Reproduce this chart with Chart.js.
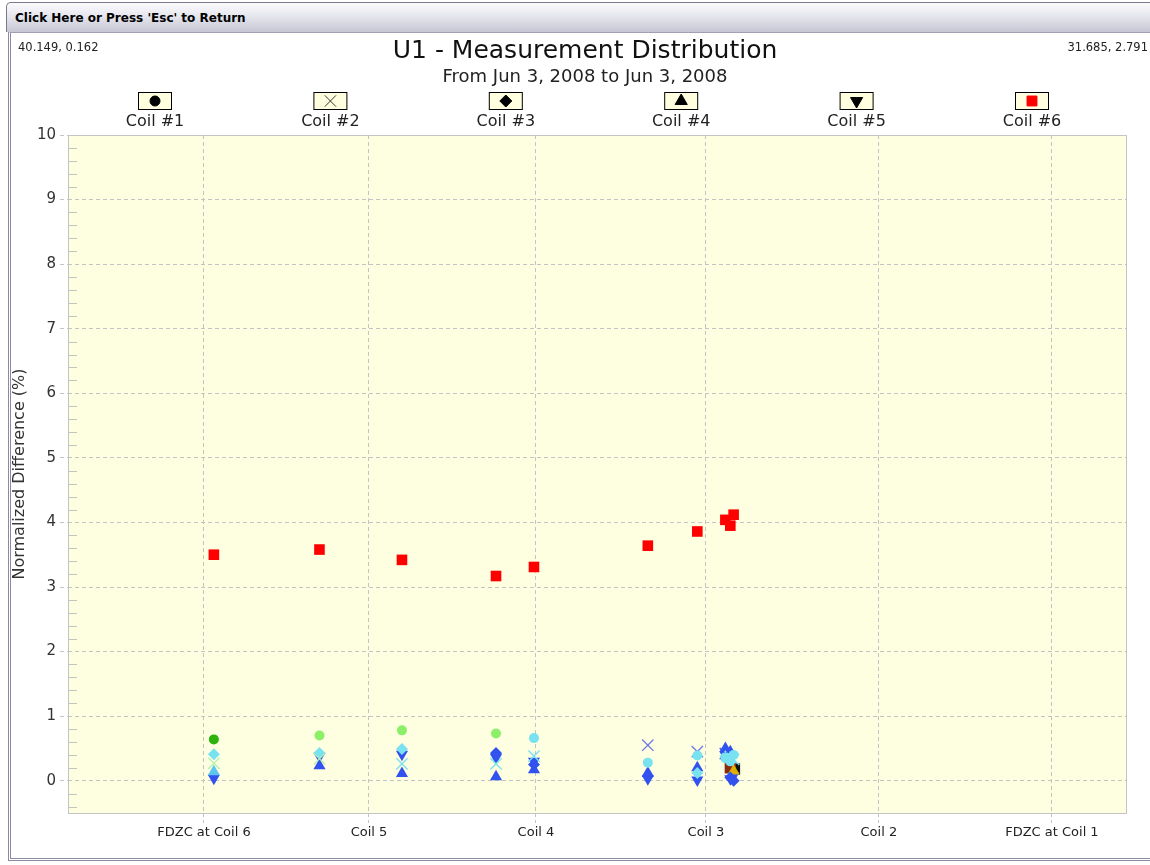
<!DOCTYPE html>
<html>
<head>
<meta charset="utf-8">
<script src="https://cdn.jsdelivr.net/npm/chart.js"></script>
<style>
  html, body { margin:0; padding:0; background:#fff; width:1150px; height:865px; overflow:hidden; }
  #bar {
    position:absolute; left:6px; top:2px; width:1150px; height:30px;
    border-top:1px solid #7a7a8a; border-left:1px solid #7a7a8a; border-radius:5px 0 0 0;
    background:linear-gradient(#fbfbfd, #e6e6ee 45%, #c6c6d4);
    font:bold 12px "DejaVu Sans", sans-serif; color:#000;
    line-height:30px; padding-left:8px; box-sizing:border-box; white-space:nowrap;
  }
  #frame {
    position:absolute; left:8px; top:32px; width:1150px; height:829px;
    border-left:3px double #8a8aa0; border-bottom:3px double #8a8aa0; border-top:1px solid #a0a0b4;
    box-sizing:border-box; background:#fff;
  }
  .coord { position:absolute; top:40px; font:11.5px "DejaVu Sans", sans-serif; color:#222; white-space:nowrap; }
  #chart { position:absolute; left:12px; top:34px; }
</style>
</head>
<body>
<div id="bar">Click Here or Press 'Esc' to Return</div>
<div id="frame"></div>
<canvas id="chart" width="1138" height="826"></canvas>
<div class="coord" style="left:18px">40.149, 0.162</div>
<div class="coord" style="right:2px">31.685, 2.791</div>
<script>
// ---------- dados ----------
const categories = ['FDZC at Coil 6', 'Coil 5', 'Coil 4', 'Coil 3', 'Coil 2', 'FDZC at Coil 1'];
const categoryPos = [0, 1.0, 2.012, 3.042, 4.09, 5.139];
const yTicks = [0, 1, 2, 3, 4, 5, 6, 7, 8, 9, 10];

// posições das medições no eixo x
const measX = [0.06, 0.70, 1.20, 1.77, 2.00, 2.69, 2.99, 3.16, 3.19, 3.21];

const coil1 = [0.64, 0.70, 0.78, 0.73, 0.66, 0.28, 0.39, 0.35, 0.30, 0.40];
const coil2 = [0.27, 0.34, 0.26, 0.26, 0.38, 0.55, 0.45, 0.42, 0.36, 0.33];
const coil3 = [0.41, 0.43, 0.49, 0.43, 0.25, 0.07, 0.12, 0.38, 0.05, 0.00];
const coil4 = [0.14, 0.23, 0.11, 0.06, 0.17, 0.12, 0.20, 0.50, 0.45, 0.15];
const coil5 = [0.04, 0.38, 0.41, 0.36, 0.30, 0.03, 0.01, 0.40, 0.03, 0.08];
const coil6 = [3.50, 3.58, 3.42, 3.17, 3.31, 3.64, 3.86, 4.04, 3.95, 4.12];

// pontos marcados (quadrados escuros no grupo de Coil 3)
const markedX = [3.215, 3.19];
const markedY = [0.18, 0.20];

// ---------- cores ----------
const G1 = '#2eb20e', LG = '#8cef68', XG = '#b2f0b0', CY = '#78e2f0', BL = '#3152ee', XB = '#6a78e0', LB = '#5cc6f0';
const coil1Colors = [G1, LG, LG, LG, CY, CY, CY, CY, CY, CY];
const coil2Colors = [XG, XG, CY, CY, CY, XB, XB, BL, CY, CY];
const coil3Colors = [CY, CY, CY, BL, BL, BL, CY, CY, BL, BL];
const coil4Colors = [LB, BL, BL, BL, BL, BL, BL, BL, BL, '#e0b000'];
const coil5Colors = measX.map(() => BL);
const coil6Colors = measX.map(() => '#ff0000');
const markedColors = ['#111111', '#8a2a10'];

const FONT = '"DejaVu Sans", Verdana, sans-serif';

function pts(xs, ys){
    return xs.map((x, i) => ({x: x, y: ys[i]}));
}

const legendItems = [
    {label:'Coil #1', style:'circle', radius:5, rotation:0, color:'#000'},
    {label:'Coil #2', style:'crossRot', radius:8, rotation:0, color:'#000'},
    {label:'Coil #3', style:'rectRot', radius:6, rotation:0, color:'#000'},
    {label:'Coil #4', style:'triangle', radius:7, rotation:0, color:'#000'},
    {label:'Coil #5', style:'triangle', radius:7, rotation:180, color:'#000'},
    {label:'Coil #6', style:'rect', radius:7, rotation:0, color:'#ff0000'}
];

// ---------- plugin: fundo, borda, ticks menores e legenda ----------
const plotDeco = {
    id:'plotDeco',
    beforeDraw(chart){
        const a = chart.chartArea, ctx = chart.ctx;
        ctx.save();
        ctx.fillStyle = '#fefee0';
        ctx.fillRect(a.left, a.top, a.right - a.left, a.bottom - a.top);
        ctx.restore();
    },
    beforeDatasetsDraw(chart){
        const a = chart.chartArea, ctx = chart.ctx, ys = chart.scales.y;
        ctx.save();
        ctx.strokeStyle = '#c4c4c4';
        ctx.lineWidth = 1;
        for(let v = -0.4; v < 10; v += 0.2){
            if(Math.abs(v - Math.round(v)) < 0.01) continue;
            const py = Math.round(ys.getPixelForValue(v)) + 0.5;
            ctx.beginPath();
            ctx.moveTo(a.left, py);
            ctx.lineTo(a.left + 9, py);
            ctx.stroke();
        }
        ctx.strokeRect(Math.round(a.left) + 0.5, Math.round(a.top) + 0.5, Math.round(a.right - a.left), Math.round(a.bottom - a.top));
        ctx.restore();
    },
    afterDraw(chart){
        const a = chart.chartArea, ctx = chart.ctx;
        ctx.save();
        legendItems.forEach((it, i) => {
            const cx = a.left + 87 + i * 175.4;
            const top = 58;
            ctx.fillStyle = '#ffffe0';
            ctx.fillRect(cx - 17, top, 34, 18);
            ctx.strokeStyle = '#000';
            ctx.lineWidth = 1;
            ctx.strokeRect(cx - 16.5, top + 0.5, 33, 17);
            ctx.fillStyle = it.color;
            ctx.strokeStyle = it.style === 'crossRot' ? '#333' : it.color;
            ctx.lineWidth = 1;
            Chart.helpers.drawPoint(ctx, {pointStyle:it.style, radius:it.radius, rotation:it.rotation, borderWidth:1}, cx, top + 9);
            ctx.fillStyle = '#222';
            ctx.font = '16px ' + FONT;
            ctx.textAlign = 'center';
            ctx.textBaseline = 'middle';
            ctx.fillText(it.label, cx, 88);
        });
        ctx.restore();
    }
};

const baseDs = {showLine:false, borderWidth:0, hoverRadius:0, yAxisID:'y'};

new Chart(document.getElementById('chart'), {
    type:'scatter',
    data:{
        datasets:[
            Object.assign({}, baseDs, {label:'Coil #1', data:pts(measX, coil1), pointStyle:'circle', pointRadius:5, pointBackgroundColor:coil1Colors, pointBorderColor:coil1Colors}),
            Object.assign({}, baseDs, {label:'Coil #2', data:pts(measX, coil2), pointStyle:'crossRot', pointRadius:8, pointBorderWidth:1.3, borderWidth:1.3, pointBackgroundColor:coil2Colors, pointBorderColor:coil2Colors}),
            Object.assign({}, baseDs, {label:'Coil #3', data:pts(measX, coil3), pointStyle:'rectRot', pointRadius:6, pointBackgroundColor:coil3Colors, pointBorderColor:coil3Colors}),
            Object.assign({}, baseDs, {label:'Coil #4', data:pts(measX, coil4), pointStyle:'triangle', pointRadius:7, pointBackgroundColor:coil4Colors, pointBorderColor:coil4Colors}),
            Object.assign({}, baseDs, {label:'Coil #5', data:pts(measX, coil5), pointStyle:'triangle', pointRotation:180, pointRadius:7, pointBackgroundColor:coil5Colors, pointBorderColor:coil5Colors}),
            Object.assign({}, baseDs, {label:'Coil #6', data:pts(measX, coil6), pointStyle:'rect', pointRadius:7.5, pointBackgroundColor:coil6Colors, pointBorderColor:coil6Colors}),
            Object.assign({}, baseDs, {label:'marked', data:pts(markedX, markedY), pointStyle:'rect', pointRadius:8, pointBackgroundColor:markedColors, pointBorderColor:markedColors})
        ]
    },
    options:{
        responsive:false,
        animation:false,
        events:[],
        layout:{padding:{left:8, right:0, top:0, bottom:0}},
        plugins:{
            legend:{display:false},
            tooltip:{enabled:false},
            title:{display:true, text:'U1 - Measurement Distribution', color:'#111', font:{family:FONT, size:25, weight:'normal'}, padding:{top:2.5, bottom:0}},
            subtitle:{display:true, text:'From Jun 3, 2008 to Jun 3, 2008', color:'#222', font:{family:FONT, size:18}, padding:{top:0, bottom:46.9}}
        },
        scales:{
            x:{
                type:'linear', min:-0.824, max:5.588,
                afterBuildTicks(s){ s.ticks = categoryPos.map(v => ({value:v})); },
                afterFit(s){ s.height = 47; },
                grid:{color:'#c4c4c4', tickColor:'#c4c4c4', tickLength:10, tickBorderDash:[4,3]},
                border:{display:false, dash:[4,3]},
                ticks:{autoSkip:false, maxRotation:0, padding:2, color:'#222', font:{family:FONT, size:13},
                       callback:(v, i) => categories[i]}
            },
            y:{
                type:'linear', min:-0.5, max:10,
                afterBuildTicks(s){ s.ticks = yTicks.map(v => ({value:v})); },
                afterFit(s){ s.width = 48; },
                grid:{color:'#c4c4c4', tickColor:'#c4c4c4', tickLength:8, tickBorderDash:[4,3]},
                border:{display:false, dash:[4,3]},
                ticks:{padding:4, color:'#333', font:{family:FONT, size:15}},
                title:{display:true, text:'Normalized Difference (%)', color:'#333', font:{family:FONT, size:16}, padding:{top:-9.6, bottom:0}}
            },
            // eixo vazio à direita só para reservar a margem
            y2:{
                type:'linear', position:'right', display:true,
                afterFit(s){ s.width = 24; },
                grid:{display:false, drawTicks:false},
                border:{display:false},
                ticks:{display:false}
            }
        }
    },
    plugins:[plotDeco]
});
</script>
</body>
</html>
